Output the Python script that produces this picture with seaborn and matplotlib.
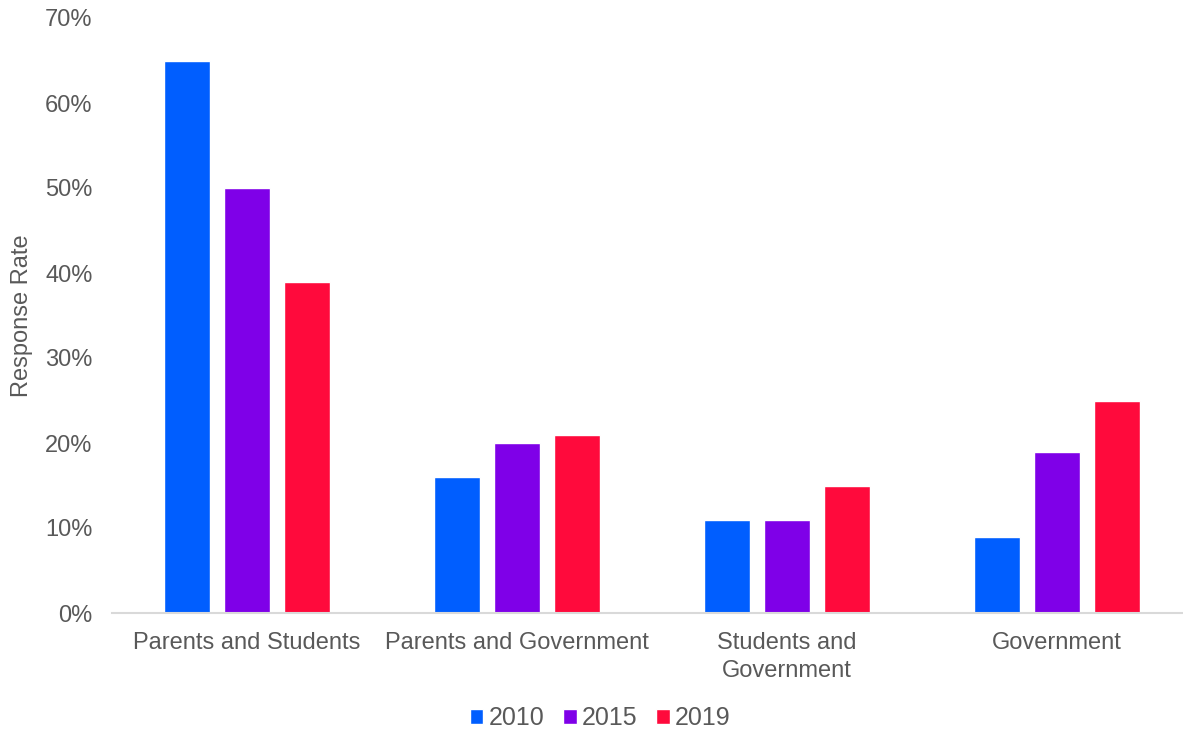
import matplotlib
matplotlib.use("Agg")
import matplotlib.pyplot as plt
import seaborn as sns
import pandas as pd
from matplotlib.ticker import FuncFormatter

categories = ["Parents and Students", "Parents and Government",
              "Students and\nGovernment", "Government"]
years = ["2010", "2015", "2019"]
rate_2010 = [65, 16, 11, 9]
rate_2015 = [50, 20, 11, 19]
rate_2019 = [39, 21, 15, 25]
colors = ["#005EFF", "#7F00E8", "#FF0A3C"]

rows = []
for yr, vals in zip(years, [rate_2010, rate_2015, rate_2019]):
    for cat, v in zip(categories, vals):
        rows.append({"Category": cat, "Year": yr, "Rate": v})
df = pd.DataFrame(rows)

sns.set_style("white")
plt.rcParams["font.family"] = ["Liberation Sans", "DejaVu Sans"]
text_color = "#595959"
fs = 17

fig = plt.figure(figsize=(11.83, 7.33), dpi=100)
ax_w = 1 - 112 / 1183
ax = fig.add_axes([112 / 1183, 120 / 733, ax_w, (613 - 18) / 733])

sns.barplot(data=df, x="Category", y="Rate", hue="Year", order=categories,
            hue_order=years, palette=colors, width=0.667, gap=0.22,
            saturation=1, ax=ax, legend=True)

ax.set_ylim(0, 70)
ax.set_xlim(-0.5, (1183 - 112) / 270 - 0.5)
ax.set_yticks(range(0, 71, 10))
ax.yaxis.set_major_formatter(FuncFormatter(lambda v, _: f"{int(v)}%"))
ax.set_xlabel("")
ax.set_ylabel("Response Rate", fontsize=fs, color=text_color)
ax.yaxis.set_label_coords((33 - 112) / (1183 - 112), 0.5)
ax.tick_params(axis="both", length=0, labelsize=fs, labelcolor=text_color)
ax.tick_params(axis="y", pad=14)
ax.tick_params(axis="x", pad=14)
for lbl in ax.get_xticklabels():
    lbl.set_linespacing(1.35)

for side in ["top", "right", "left"]:
    ax.spines[side].set_visible(False)
ax.spines["bottom"].set_color("#D9D9D9")
ax.spines["bottom"].set_linewidth(1.5)
ax.grid(False)

handles, labels = ax.get_legend_handles_labels()
ax.get_legend().remove()
fig.legend(handles, labels, loc="center", bbox_to_anchor=(600 / 1183, 1 - 718 / 733),
           ncol=3, frameon=False, fontsize=18, labelcolor=text_color,
           handlelength=0.55, handleheight=0.55, handletextpad=0.2,
           columnspacing=0.75)

fig.savefig("out.png", dpi=100)
